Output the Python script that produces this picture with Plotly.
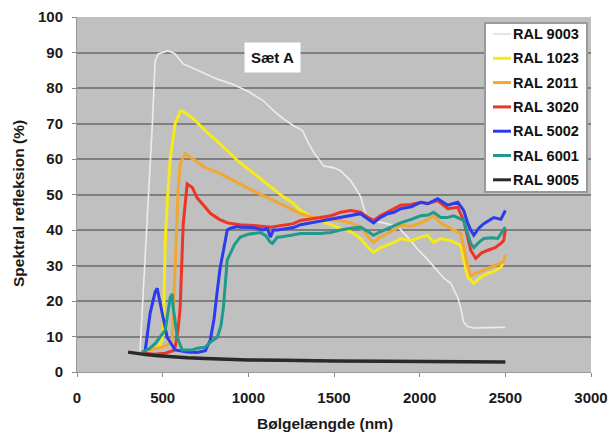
import plotly.graph_objects as go

x_9003 = [368, 390, 415, 440, 456, 474, 500, 532, 573, 602, 620, 680, 749, 820, 912, 1000, 1088, 1150, 1205, 1260, 1316, 1345, 1380, 1403, 1440, 1500, 1538, 1596, 1655, 1684, 1713, 1790, 1871, 1930, 1990, 2040, 2082, 2140, 2181, 2222, 2240, 2257, 2280, 2316, 2400, 2500]
y_9003 = [6, 26, 46, 70, 87.6, 89.6, 90, 90.5, 89.6, 88, 86.8, 85.5, 84, 82.5, 81, 79, 76.4, 73.5, 71.3, 69.5, 68, 65, 62, 60.4, 58, 57.5, 56.7, 54, 49.5, 44.6, 42.7, 42, 41, 38, 34.5, 32, 29.6, 26.5, 25, 21, 18, 14, 12.8, 12.4, 12.5, 12.6]

x_1023 = [380, 398, 474, 497, 503, 515, 530, 544, 573, 602, 614, 673, 749, 830, 935, 1029, 1129, 1200, 1263, 1304, 1345, 1380, 1421, 1480, 1538, 1600, 1655, 1700, 1731, 1770, 1813, 1850, 1889, 1950, 2006, 2047, 2082, 2123, 2181, 2240, 2260, 2281, 2316, 2350, 2398, 2440, 2474, 2500]
y_1023 = [5.5, 6, 7, 9, 11, 37, 50, 60, 70, 73.3, 73.6, 71.6, 68, 64.5, 59.6, 56, 52, 49.5, 47.5, 45.5, 44.5, 43, 42.7, 41.5, 40.4, 39.5, 37.6, 35, 33.7, 35, 35.7, 36.5, 37.6, 37, 38, 38.5, 36.5, 37.6, 37, 35.7, 31, 26.7, 25, 26.5, 27.8, 28.5, 29.5, 32]

x_2011 = [380, 409, 503, 540, 556, 573, 590, 602, 632, 690, 749, 836, 930, 1029, 1130, 1228, 1304, 1380, 1421, 1480, 1538, 1600, 1655, 1700, 1731, 1770, 1813, 1850, 1889, 1950, 2006, 2050, 2082, 2123, 2160, 2199, 2240, 2257, 2280, 2298, 2339, 2380, 2415, 2460, 2490, 2500]
y_2011 = [5.5, 6.2, 7, 8, 9, 27.8, 51, 58.7, 61.5, 59.6, 57.6, 55.9, 53.5, 51, 48.7, 46.4, 44.6, 43.5, 43.5, 43, 42.7, 42, 40.8, 38, 36.5, 38, 39, 40, 41.3, 41, 42, 43, 44, 41.8, 41, 40, 39, 35, 30, 27.2, 28, 29, 29.5, 30.5, 31, 33]

x_3020 = [390, 398, 450, 515, 560, 573, 590, 602, 620, 643, 673, 702, 749, 778, 830, 877, 950, 1029, 1129, 1200, 1263, 1304, 1360, 1421, 1480, 1538, 1600, 1655, 1700, 1731, 1770, 1813, 1850, 1889, 1950, 2006, 2050, 2105, 2164, 2222, 2257, 2298, 2327, 2360, 2398, 2440, 2474, 2490, 2500]
y_3020 = [5.5, 5.3, 5, 5.3, 6, 7, 12, 18, 41.8, 53, 52, 49, 46.4, 44.7, 43, 42, 41.5, 41.3, 40.8, 41.3, 41.8, 42.7, 43, 43.5, 44, 45, 45.5, 45, 43.5, 42.7, 44, 45, 46, 47, 47.2, 47.8, 47.5, 48.3, 46, 46.4, 42.7, 34.3, 32, 33.5, 34.3, 35, 36.2, 37, 40]

x_5002 = [380, 398, 427, 456, 468, 497, 526, 573, 643, 700, 749, 778, 800, 819, 836, 854, 877, 895, 935, 953, 1029, 1088, 1111, 1129, 1146, 1170, 1263, 1304, 1360, 1421, 1480, 1538, 1600, 1655, 1700, 1731, 1770, 1813, 1850, 1889, 1950, 2006, 2047, 2105, 2164, 2222, 2257, 2280, 2298, 2316, 2345, 2374, 2433, 2474, 2500]
y_5002 = [5.3, 6, 16.6, 22.5, 23.6, 16.6, 9.8, 6.2, 5.6, 5.5, 6, 9, 15, 23, 29.5, 34, 40, 40.5, 41, 40.8, 40.7, 40, 40.4, 38, 40, 40, 40.7, 41.5, 42, 42.5, 43, 43.5, 44, 44.6, 43, 42, 43.5, 44.6, 45, 46, 46.5, 47.8, 47.4, 48.8, 47, 47.8, 45.5, 42, 40, 38.5, 40.5, 41.8, 43.5, 43, 45.5]

x_6001 = [380, 420, 456, 490, 515, 544, 556, 561, 585, 614, 643, 673, 702, 749, 778, 819, 840, 854, 877, 895, 920, 953, 1000, 1070, 1100, 1129, 1140, 1170, 1187, 1250, 1304, 1380, 1421, 1480, 1538, 1600, 1655, 1700, 1731, 1770, 1813, 1850, 1889, 1950, 2006, 2050, 2082, 2123, 2160, 2199, 2257, 2280, 2298, 2316, 2345, 2374, 2420, 2456, 2500]
y_6001 = [5.6, 6.5, 8, 10, 11.8, 21, 22, 18.3, 9.8, 6.2, 6.2, 6.2, 6.7, 7, 8.4, 9.8, 13, 18, 31.5, 33.5, 36, 38, 38.8, 39.3, 38.5, 36.5, 36.2, 38, 38, 38.5, 39, 39, 39, 39.3, 40, 40.5, 40.8, 39.5, 38.5, 39.5, 40.4, 41, 42, 43, 44, 44.2, 45, 43.5, 43.5, 44, 42.7, 39, 36.2, 35, 36.5, 37.6, 37.8, 37.6, 40.8]

x_9005 = [298, 350, 400, 474, 550, 643, 749, 895, 1000, 1200, 1304, 1500, 1800, 2100, 2500]
y_9005 = [5.6, 5.2, 4.9, 4.6, 4.3, 4.0, 3.8, 3.5, 3.4, 3.3, 3.2, 3.1, 3.0, 2.9, 2.8]

x_ticks = [0, 500, 1000, 1500, 2000, 2500, 3000]
x_tick_labels = ["0", "500", "1000", "1500", "2000", "2500", "3000"]
y_ticks = [0, 10, 20, 30, 40, 50, 60, 70, 80, 90, 100]
y_tick_labels = ["0", "10", "20", "30", "40", "50", "60", "70", "80", "90", "100"]

series_names = ["RAL 9003", "RAL 1023", "RAL 2011", "RAL 3020", "RAL 5002", "RAL 6001", "RAL 9005"]
series_x = [x_9003, x_1023, x_2011, x_3020, x_5002, x_6001, x_9005]
series_y = [y_9003, y_1023, y_2011, y_3020, y_5002, y_6001, y_9005]
colors = ["#ececec", "#f7ea1a", "#f0a830", "#ee3424", "#2a3bf0", "#1f9a8c", "#2a2a2a"]
widths = [1.6, 3, 3, 3, 3, 3, 3.5]

W, H = 613, 434
ML, MR, MT, MB = 77, 22, 17, 62
PW, PH = W - ML - MR, H - MT - MB

def px_x(p):
    return (p - ML) / PW

def px_y(p):
    return (H - MB - p) / PH

font_b = "Liberation Sans, Arial, sans-serif"
txt_col = "#1a1a1a"

fig = go.Figure()
for name, xs, ys, col, w in zip(series_names, series_x, series_y, colors, widths):
    fig.add_trace(go.Scatter(x=xs, y=ys, mode="lines", name=name,
                             line=dict(color=col, width=w), showlegend=False))

shapes = []
annotations = []

# legend box
shapes.append(dict(type="rect", xref="paper", yref="paper",
                   x0=px_x(485), x1=px_x(587), y0=px_y(192), y1=px_y(23),
                   fillcolor="white", line=dict(color="#9a9a9a", width=2), layer="above"))
for i, (name, col, w) in enumerate(zip(series_names, colors, widths)):
    yc = 34 + i * 24.3
    shapes.append(dict(type="line", xref="paper", yref="paper",
                       x0=px_x(493), x1=px_x(511), y0=px_y(yc), y1=px_y(yc),
                       line=dict(color=("#dddddd" if i == 0 else col), width=min(w, 3)),
                       layer="above"))
    annotations.append(dict(x=px_x(511), y=px_y(yc), xref="paper", yref="paper",
                            text="<b>" + name + "</b>", showarrow=False,
                            xanchor="left", yanchor="middle",
                            font=dict(family=font_b, size=14.5, color="#111111")))

annotations.append(dict(x=1140, y=88.5, xref="x", yref="y", text="<b>Sæt A</b>",
                        showarrow=False, bgcolor="white", borderpad=6,
                        font=dict(family=font_b, size=15, color="#111111")))
annotations.append(dict(x=px_x(325), y=px_y(423), xref="paper", yref="paper",
                        text="<b>Bølgelængde (nm)</b>", showarrow=False,
                        xanchor="center", yanchor="middle",
                        font=dict(family=font_b, size=15.5, color=txt_col)))
annotations.append(dict(x=px_x(18), y=px_y(204), xref="paper", yref="paper",
                        text="<b>Spektral refleksion (%)</b>", showarrow=False, textangle=-90,
                        xanchor="center", yanchor="middle",
                        font=dict(family=font_b, size=15.5, color=txt_col)))

fig.update_layout(
    width=W, height=H,
    margin=dict(l=ML, r=MR, t=MT, b=MB, autoexpand=False),
    paper_bgcolor="white",
    plot_bgcolor="#c0c0c0",
    font=dict(family=font_b, size=15, color=txt_col),
    showlegend=False,
    shapes=shapes,
    annotations=annotations,
)
fig.update_xaxes(range=[0, 3000], tickvals=x_ticks,
                 ticktext=["<b>" + t + "</b>" for t in x_tick_labels],
                 showgrid=False, zeroline=False, automargin=False,
                 ticks="outside", ticklen=4, tickcolor="#888888", ticklabelstandoff=8,
                 showline=True, linecolor="#9a9a9a", linewidth=1,
                 tickfont=dict(family=font_b, size=15, color=txt_col))
fig.update_yaxes(range=[0, 100], tickvals=y_ticks,
                 ticktext=["<b>" + t + "</b>" for t in y_tick_labels],
                 showgrid=True, gridcolor="#7f7f7f", gridwidth=2,
                 zeroline=False, automargin=False,
                 ticks="outside", ticklen=4, tickcolor="#888888", ticklabelstandoff=6,
                 showline=True, linecolor="#9a9a9a", linewidth=1,
                 tickfont=dict(family=font_b, size=15, color=txt_col))

fig.write_html("out.html", config={"displayModeBar": False},
               post_script="document.body.style.margin='0';document.body.style.overflow='hidden';")
